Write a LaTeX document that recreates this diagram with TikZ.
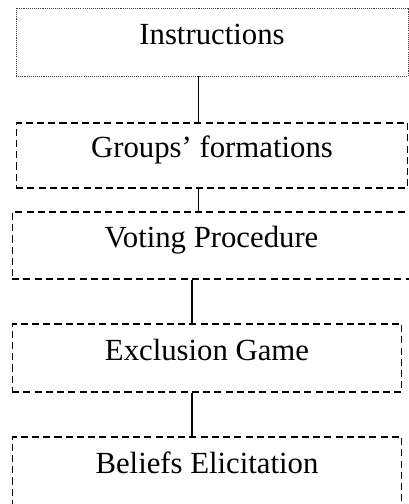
\documentclass[tikz,border=0pt]{standalone}
\usepackage{fontspec}
\setmainfont{Liberation Serif}
\usetikzlibrary{positioning,calc}
\tikzstyle{stage} = [draw, shape=rectangle, dash pattern=on 4pt off 2.4pt, line width=.6pt, inner sep=0pt, font=\fontsize{17.5}{20}\selectfont, text height=.7em, text depth=.45em]
\tikzstyle{first} = [stage, dash pattern=on .6pt off .6pt, draw=black!75, line width=.5pt]
\tikzstyle{Link} = [-, line width=.7pt]

\begin{document}
\begin{tikzpicture}[x=.02cm, y=-.02cm]
            \useasboundingbox (0,0) rectangle (409,504);
            %%%%% Stages %%%%%
            \node (instr) [first, minimum width=7.84cm, minimum height=1.36cm] at (212,42) {Instructions};
            \node (groups) [stage, minimum width=7.84cm, minimum height=1.30cm] at (212,155.5) {Groups’ formations};
            \node (voting) [stage, minimum width=7.98cm, minimum height=1.34cm] at (211.5,245.5) {Voting Procedure};
            \node (excl) [stage, minimum width=7.80cm, minimum height=1.36cm] at (207,358) {Exclusion Game};
            \node (beliefs) [stage, minimum width=7.80cm, minimum height=1.36cm] at (207,471) {Beliefs Elicitation};
            %%%%% Links %%%%%
            \coordinate (up) at (198.5,0);
            \coordinate (down) at (192,0);
            \draw [Link] (instr.south -| up) -- (groups.north -| up);
            \draw [Link] (groups.south -| up) -- (voting.north -| up);
            \draw [Link] (voting.south -| down) -- (excl.north -| down);
            \draw [Link] (excl.south -| down) -- (beliefs.north -| down);
        \end{tikzpicture}
\end{document}
